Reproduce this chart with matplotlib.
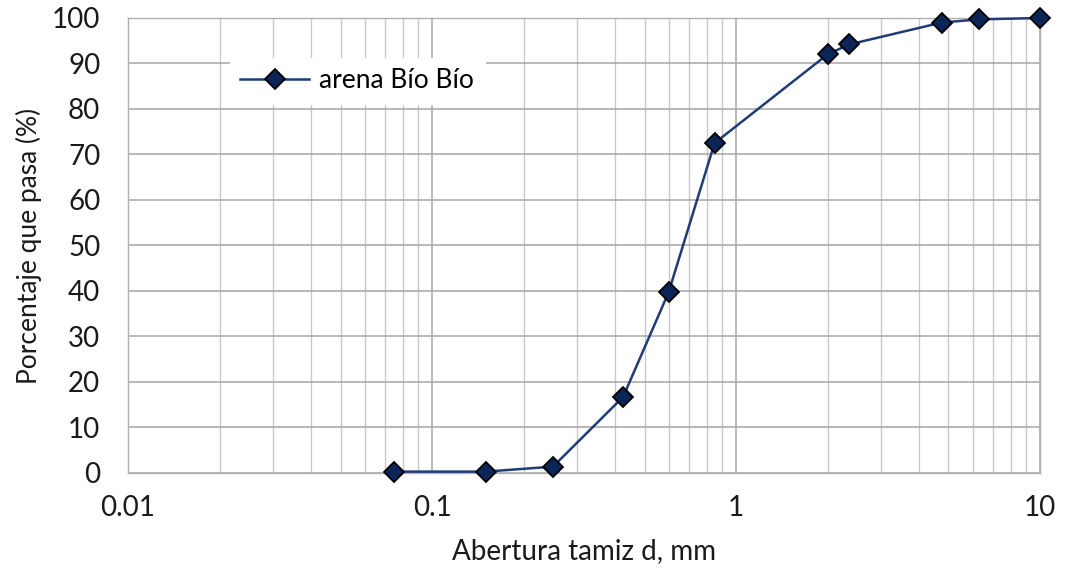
import matplotlib
matplotlib.use("Agg")
import matplotlib.pyplot as plt
from matplotlib.ticker import FixedLocator, FixedFormatter, LogLocator, NullFormatter

plt.rcParams['font.family'] = ['Lato', 'DejaVu Sans']

# sieve opening (mm) and percent passing
abertura = [0.075, 0.15, 0.25, 0.425, 0.6, 0.85, 2.0, 2.36, 4.75, 6.3, 10.0]
pasa = [0.3, 0.3, 1.4, 16.7, 39.7, 72.5, 92.0, 94.2, 99.0, 99.7, 100.0]

x_ticks = [0.01, 0.1, 1, 10]
x_labels = ['0.01', '0.1', '1', '10']
y_ticks = list(range(0, 101, 10))

fig = plt.figure(figsize=(10.67, 5.75), dpi=100)
ax = fig.add_axes([0.12, 0.1774, 0.8547, 0.7913])

ax.plot(abertura, pasa, color='#1f3b7a', linewidth=1.8, marker='D', markersize=10,
        markerfacecolor='#0b2559', markeredgecolor='black', markeredgewidth=1.3,
        label='arena Bío Bío', zorder=3, clip_on=False)

ax.set_xscale('log')
ax.set_xlim(0.01, 10)
ax.set_ylim(0, 100)
ax.xaxis.set_major_locator(FixedLocator(x_ticks))
ax.xaxis.set_major_formatter(FixedFormatter(x_labels))
ax.xaxis.set_minor_locator(LogLocator(base=10, subs=range(2, 10)))
ax.xaxis.set_minor_formatter(NullFormatter())
ax.set_yticks(y_ticks)

ax.grid(True, which='major', color='#a6a6a6', linewidth=1.1)
ax.grid(True, which='minor', axis='x', color='#c8c8c8', linewidth=1.0)
ax.set_axisbelow(True)
for s in ax.spines.values():
    s.set_color('#b0b0b0')
    s.set_linewidth(1.0)

ax.tick_params(which='both', length=0)
ax.tick_params(axis='x', pad=16, labelsize=20, colors='#1a1a1a')
ax.tick_params(axis='y', pad=20, labelsize=20, colors='#1a1a1a')

ax.set_xlabel('Abertura tamiz d, mm', fontsize=20, color='#1a1a1a', labelpad=12)
ax.set_ylabel('Porcentaje que pasa (%)', fontsize=19, color='#1a1a1a', labelpad=7)

leg = ax.legend(loc='center left', bbox_to_anchor=(0.097, 0.862), frameon=True,
                fontsize=19, handlelength=2.6, handletextpad=0.4, borderpad=0.4)
leg.get_frame().set_edgecolor('white')
leg.get_frame().set_facecolor('white')
leg.get_frame().set_alpha(1)

fig.savefig('out.png', dpi=100)
